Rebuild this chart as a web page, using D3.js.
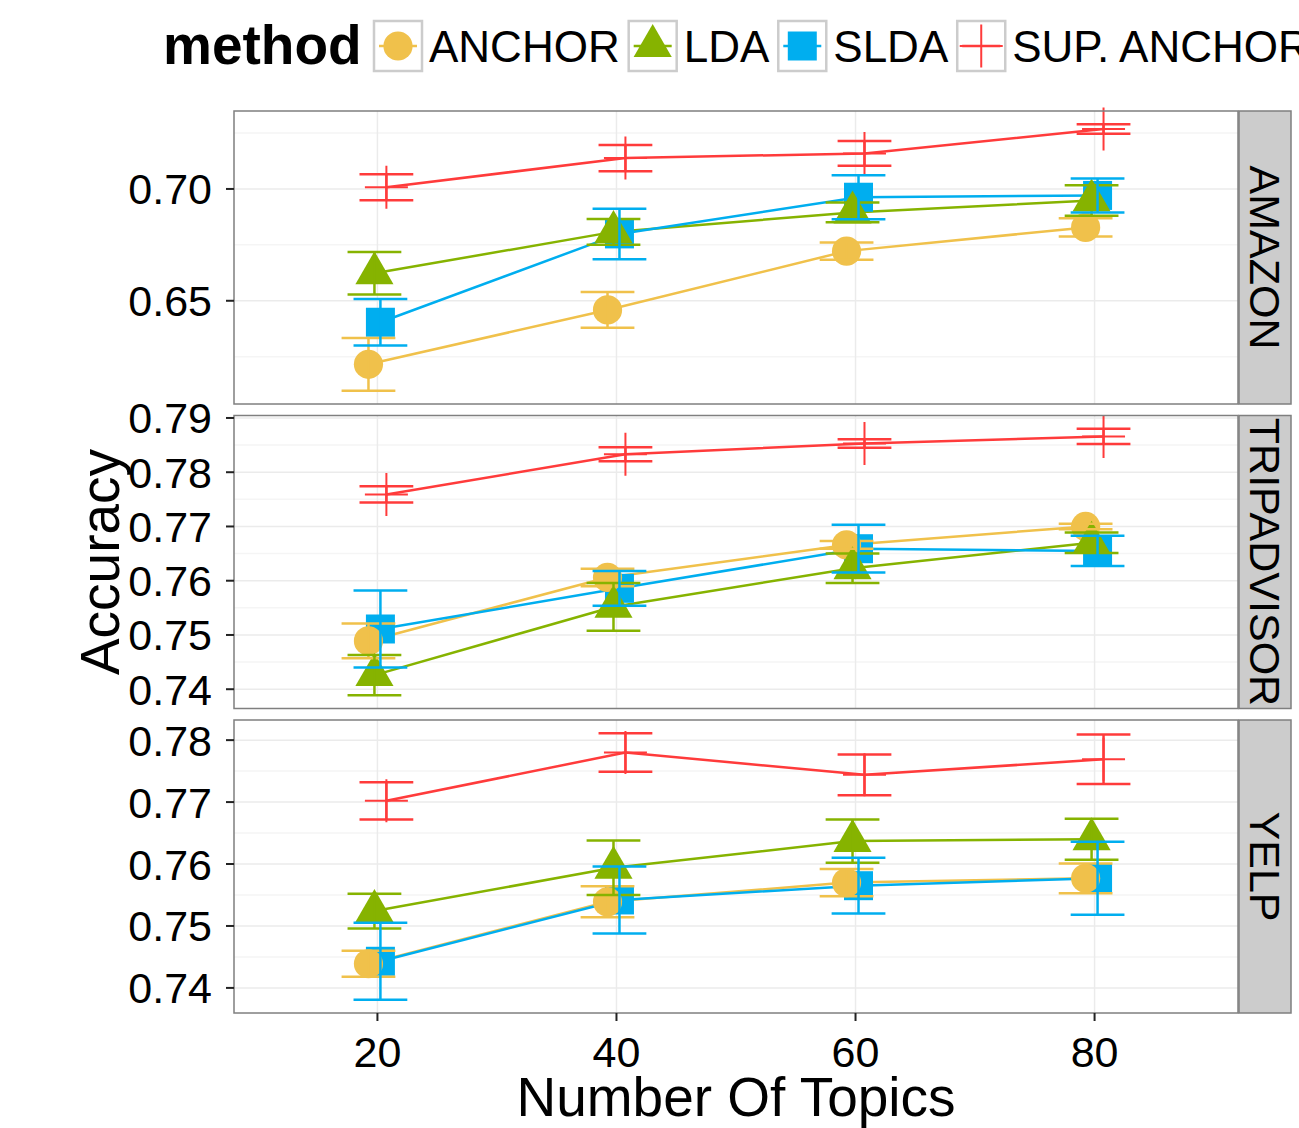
<!DOCTYPE html>
<html>
<head>
  <meta charset="utf-8">
  <script src="https://d3js.org/d3.v7.min.js"></script>
  <style>
    body { margin: 0; background: #fff; }
    text { font-family: "Liberation Sans", Arial, Helvetica, sans-serif; fill: #000; }
  </style>
</head>
<body>
<script>
// ---- values ----
var topics = [20, 40, 60, 80];
var methods = ["ANCHOR", "LDA", "SLDA", "SUP. ANCHOR"];
var datasets = ["AMAZON", "TRIPADVISOR", "YELP"];

// rows: ANCHOR, LDA, SLDA, SUP. ANCHOR ; columns: 20, 40, 60, 80 topics
var amazonMean = [
  [0.6216, 0.6459, 0.6722, 0.6828],
  [0.6623, 0.6808, 0.6895, 0.6948],
  [0.6404, 0.6799, 0.6963, 0.6971],
  [0.7008, 0.7138, 0.7159, 0.7268]
];
var amazonSe = [
  [0.0118, 0.0080, 0.0039, 0.0041],
  [0.0095, 0.0058, 0.0044, 0.0068],
  [0.0104, 0.0113, 0.0098, 0.0076],
  [0.0058, 0.0059, 0.0055, 0.0021]
];
var tripadvisorMean = [
  [0.7489, 0.7606, 0.7666, 0.7700],
  [0.7426, 0.7552, 0.7623, 0.7670],
  [0.7511, 0.7586, 0.7659, 0.7655],
  [0.7759, 0.7833, 0.7853, 0.7866]
];
var tripadvisorSe = [
  [0.0032, 0.0016, 0.0007, 0.0005],
  [0.0037, 0.0044, 0.0027, 0.0019],
  [0.0071, 0.0032, 0.0044, 0.0028],
  [0.0015, 0.0013, 0.0008, 0.0014]
];
var yelpMean = [
  [0.7439, 0.7539, 0.7570, 0.7577],
  [0.7524, 0.7594, 0.7637, 0.7640],
  [0.7443, 0.7542, 0.7565, 0.7577],
  [0.7702, 0.7780, 0.7744, 0.7769]
];
var yelpSe = [
  [0.0021, 0.0025, 0.0022, 0.0024],
  [0.0028, 0.0044, 0.0035, 0.0033],
  [0.0062, 0.0054, 0.0045, 0.0059],
  [0.0030, 0.0031, 0.0033, 0.0040]
];

var xTicks = [20, 40, 60, 80];
var amazonTicks = [0.65, 0.70];
var tripadvisorTicks = [0.74, 0.75, 0.76, 0.77, 0.78, 0.79];
var yelpTicks = [0.74, 0.75, 0.76, 0.77, 0.78];

var colors = ["#F0C14B", "#86B300", "#00AEEF", "#FF3B3B"];
var dodge = [-0.75, -0.25, 0.25, 0.75];

var panels = [
  { name: datasets[0], mean: amazonMean, se: amazonSe, ticks: amazonTicks },
  { name: datasets[1], mean: tripadvisorMean, se: tripadvisorSe, ticks: tripadvisorTicks },
  { name: datasets[2], mean: yelpMean, se: yelpSe, ticks: yelpTicks }
];

// ---- layout ----
var width = 1299, height = 1128;
var left = 234, right = 1238, stripW = 53;
var panelH = 293, panelGap = 11.5, top0 = 111;

var svg = d3.select("body").append("svg")
    .attr("width", width)
    .attr("height", height);

var x = d3.scaleLinear().domain([8, 92]).range([left, right]);
var fmt = d3.format(".2f");

function shapeGen(m) {
  if (m === 0) return d3.symbol(d3.symbolCircle, 670)();
  if (m === 1) return d3.symbol(d3.symbolTriangle, 629)();
  if (m === 2) return d3.symbol(d3.symbolSquare, 841)();
  return "M-21.5,0H21.5M0,-21.5V21.5";
}

function drawShape(g, m, cx, cy) {
  var p = g.append("path")
      .attr("d", shapeGen(m))
      .attr("transform", "translate(" + cx + "," + cy + ")");
  if (m === 3) p.attr("fill", "none").attr("stroke", colors[m]).attr("stroke-width", 2);
  else p.attr("fill", colors[m]);
}

panels.forEach(function (pn, i) {
  var top = top0 + i * (panelH + panelGap);
  var bottom = top + panelH;

  var lo = d3.min(pn.mean, function (r, m) { return d3.min(r, function (v, j) { return v - pn.se[m][j]; }); });
  var hi = d3.max(pn.mean, function (r, m) { return d3.max(r, function (v, j) { return v + pn.se[m][j]; }); });
  var pad = (hi - lo) * 0.05;
  var y = d3.scaleLinear().domain([lo - pad, hi + pad]).range([bottom, top]);

  var g = svg.append("g");

  g.append("rect")
      .attr("x", left).attr("y", top)
      .attr("width", right - left).attr("height", panelH)
      .attr("fill", "#fff");

  // minor grid (horizontal only)
  var step = pn.ticks.length > 1 ? pn.ticks[1] - pn.ticks[0] : 0.05;
  var minorY = [];
  for (var k = -1; k < pn.ticks.length; k++) {
    var v = pn.ticks[0] + (k + 0.5) * step;
    if (v > y.domain()[0] && v < y.domain()[1]) minorY.push(v);
  }
  g.selectAll(".minory").data(minorY).enter().append("line")
      .attr("x1", left).attr("x2", right)
      .attr("y1", function (d) { return y(d); }).attr("y2", function (d) { return y(d); })
      .attr("stroke", "#F5F5F5").attr("stroke-width", 1.5);

  // major grid
  g.selectAll(".majory").data(pn.ticks).enter().append("line")
      .attr("x1", left).attr("x2", right)
      .attr("y1", function (d) { return y(d); }).attr("y2", function (d) { return y(d); })
      .attr("stroke", "#EBEBEB").attr("stroke-width", 1.5);
  g.selectAll(".majorx").data(xTicks).enter().append("line")
      .attr("x1", function (d) { return x(d); }).attr("x2", function (d) { return x(d); })
      .attr("y1", top).attr("y2", bottom)
      .attr("stroke", "#EBEBEB").attr("stroke-width", 1.5);

  // lines
  methods.forEach(function (name, m) {
    var line = d3.line()
        .x(function (d, j) { return x(topics[j] + dodge[m]); })
        .y(function (d) { return y(d); });
    g.append("path")
        .attr("d", line(pn.mean[m]))
        .attr("fill", "none")
        .attr("stroke", colors[m])
        .attr("stroke-width", 2.5);
  });

  // points
  [2, 0, 1, 3].forEach(function (m) {
    pn.mean[m].forEach(function (v, j) {
      drawShape(g, m, x(topics[j] + dodge[m]), y(v));
    });
  });

  // error bars
  methods.forEach(function (name, m) {
    pn.mean[m].forEach(function (v, j) {
      var cx = topics[j] + dodge[m];
      var y1 = y(v + pn.se[m][j]), y2 = y(v - pn.se[m][j]);
      var eb = g.append("g").attr("stroke", colors[m]).attr("stroke-width", 2.5);
      eb.append("line").attr("x1", x(cx)).attr("x2", x(cx)).attr("y1", y1).attr("y2", y2);
      eb.append("line").attr("x1", x(cx - 2.25)).attr("x2", x(cx + 2.25)).attr("y1", y1).attr("y2", y1);
      eb.append("line").attr("x1", x(cx - 2.25)).attr("x2", x(cx + 2.25)).attr("y1", y2).attr("y2", y2);
    });
  });

  // border
  g.append("rect")
      .attr("x", left).attr("y", top)
      .attr("width", right - left).attr("height", panelH)
      .attr("fill", "none").attr("stroke", "#7F7F7F").attr("stroke-width", 1.5);

  // strip
  g.append("rect")
      .attr("x", right + 1).attr("y", top)
      .attr("width", stripW - 1).attr("height", panelH)
      .attr("fill", "#CCCCCC").attr("stroke", "#7F7F7F").attr("stroke-width", 1.5);
  g.append("text")
      .attr("transform", "translate(" + (right + stripW / 2 + 1) + "," + (top + panelH / 2) + ") rotate(90)")
      .attr("text-anchor", "middle")
      .attr("dy", "0.36em")
      .style("font-size", "43px")
      .text(pn.name);

  // y axis
  var yAxis = g.append("g");
  yAxis.selectAll("line").data(pn.ticks).enter().append("line")
      .attr("x1", left - 8).attr("x2", left)
      .attr("y1", function (d) { return y(d); }).attr("y2", function (d) { return y(d); })
      .attr("stroke", "#222").attr("stroke-width", 2);
  yAxis.selectAll("text").data(pn.ticks).enter().append("text")
      .attr("x", left - 22)
      .attr("y", function (d) { return y(d); })
      .attr("dy", "0.36em")
      .attr("text-anchor", "end")
      .style("font-size", "43px")
      .text(function (d) { return fmt(d); });

  // x axis on last panel
  if (i === panels.length - 1) {
    g.selectAll(".xt").data(xTicks).enter().append("line")
        .attr("x1", function (d) { return x(d); }).attr("x2", function (d) { return x(d); })
        .attr("y1", bottom).attr("y2", bottom + 8)
        .attr("stroke", "#222").attr("stroke-width", 2);
    g.selectAll(".xl").data(xTicks).enter().append("text")
        .attr("x", function (d) { return x(d); })
        .attr("y", bottom + 54)
        .attr("text-anchor", "middle")
        .style("font-size", "43px")
        .text(function (d) { return d; });
  }
});

// axis titles
svg.append("text")
    .attr("x", (left + right) / 2)
    .attr("y", 1116)
    .attr("text-anchor", "middle")
    .style("font-size", "55px")
    .text("Number Of Topics");

svg.append("text")
    .attr("transform", "translate(119," + (top0 + (3 * panelH + 2 * panelGap) / 2) + ") rotate(-90)")
    .attr("text-anchor", "middle")
    .style("font-size", "55px")
    .text("Accuracy");

// legend
var legend = svg.append("g");
legend.append("text")
    .attr("x", 163).attr("y", 64)
    .style("font-size", "55px")
    .style("font-weight", "bold")
    .text("method");

var kx = 374;
methods.forEach(function (name, m) {
  var key = legend.append("g");
  key.append("rect")
      .attr("x", kx).attr("y", 21).attr("width", 48).attr("height", 50)
      .attr("fill", "#fff").attr("stroke", "#CCCCCC").attr("stroke-width", 2.5);
  key.append("line")
      .attr("x1", kx + 5).attr("x2", kx + 43).attr("y1", 46).attr("y2", 46)
      .attr("stroke", colors[m]).attr("stroke-width", 2.5);
  drawShape(key, m, kx + 24, 46);
  var t = key.append("text")
      .attr("x", kx + 55).attr("y", 62)
      .style("font-size", "44px")
      .text(name);
  kx = kx + 55 + t.node().getComputedTextLength() + 9;
});
</script>
</body>
</html>
